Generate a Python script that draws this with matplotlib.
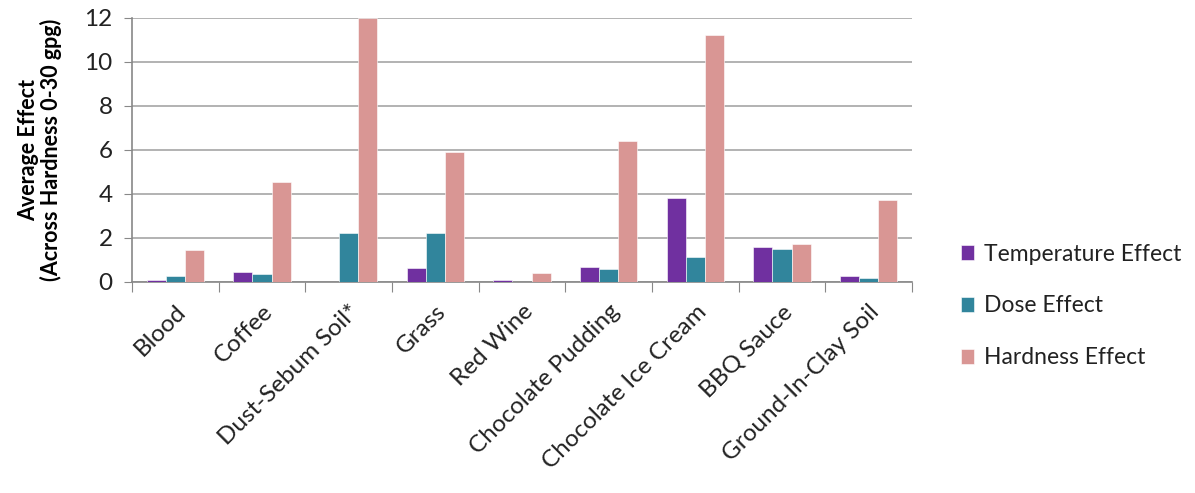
import numpy as np
import matplotlib.pyplot as plt

# soil categories and the three effects
categories = ["Blood", "Coffee", "Dust-Sebum Soil*", "Grass", "Red Wine",
              "Chocolate Pudding", "Chocolate Ice Cream", "BBQ Sauce",
              "Ground-In-Clay Soil"]
temperature = [0.07, 0.44, 0.0, 0.62, 0.07, 0.68, 3.78, 1.55, 0.26]
dose = [0.26, 0.32, 2.23, 2.23, 0.0, 0.56, 1.12, 1.49, 0.18]
hardness = [1.43, 4.53, 12.0, 5.88, 0.38, 6.38, 11.21, 1.69, 3.72]
series_names = ["Temperature Effect", "Dose Effect", "Hardness Effect"]
colors = ["#7030A0", "#31859C", "#D99694"]

plt.rcParams['font.family'] = ['Lato', 'DejaVu Sans']

fig = plt.figure(figsize=(11.95, 4.93), dpi=100)
ax = fig.add_axes([132/1195, 1 - 281.5/493, 780/1195, 263.5/493])

x = np.arange(len(categories))
w = 0.22
for i, vals in enumerate([temperature, dose, hardness]):
    ax.bar(x + (i - 1) * w, vals, w, color=colors[i], label=series_names[i],
           edgecolor="white", linewidth=0.4, zorder=3)

ax.set_xlim(-0.5, len(categories) - 0.5)
ax.set_ylim(0, 12)
ax.set_yticks(range(0, 13, 2))
ax.yaxis.grid(True, color="#A6A6A6", linewidth=1.2, zorder=0)
ax.tick_params(axis='y', labelsize=17.5, length=6, pad=8,
               direction='out', color="#888888", labelcolor="#222222")

# ticks between categories
ax.set_xticks(np.arange(-0.5, len(categories), 1.0))
ax.set_xticklabels([])
ax.tick_params(axis='x', length=7, color="#888888", direction='out')
ax.set_xticks(x, minor=True)
ax.set_xticklabels(categories, minor=True, rotation=45, ha='right',
                   rotation_mode='anchor', fontsize=17.5, color="#222222")
ax.tick_params(axis='x', which='minor', length=0, pad=14)

for s in ["top", "right"]:
    ax.spines[s].set_visible(False)
for s in ["left", "bottom"]:
    ax.spines[s].set_color("#888888")
    ax.spines[s].set_linewidth(1.2)

ax.set_ylabel("Average Effect\n(Across Hardness 0-30 gpg)", fontsize=15.5,
              fontweight='bold', labelpad=16, linespacing=1.05)

fig.legend(loc='center left', bbox_to_anchor=(940/1195, 1 - 306/493),
           frameon=False, fontsize=16.5, handlelength=0.6, handleheight=0.6,
           handletextpad=0.4, labelspacing=1.35, labelcolor="#222222")

fig.savefig("out.png", dpi=100)
